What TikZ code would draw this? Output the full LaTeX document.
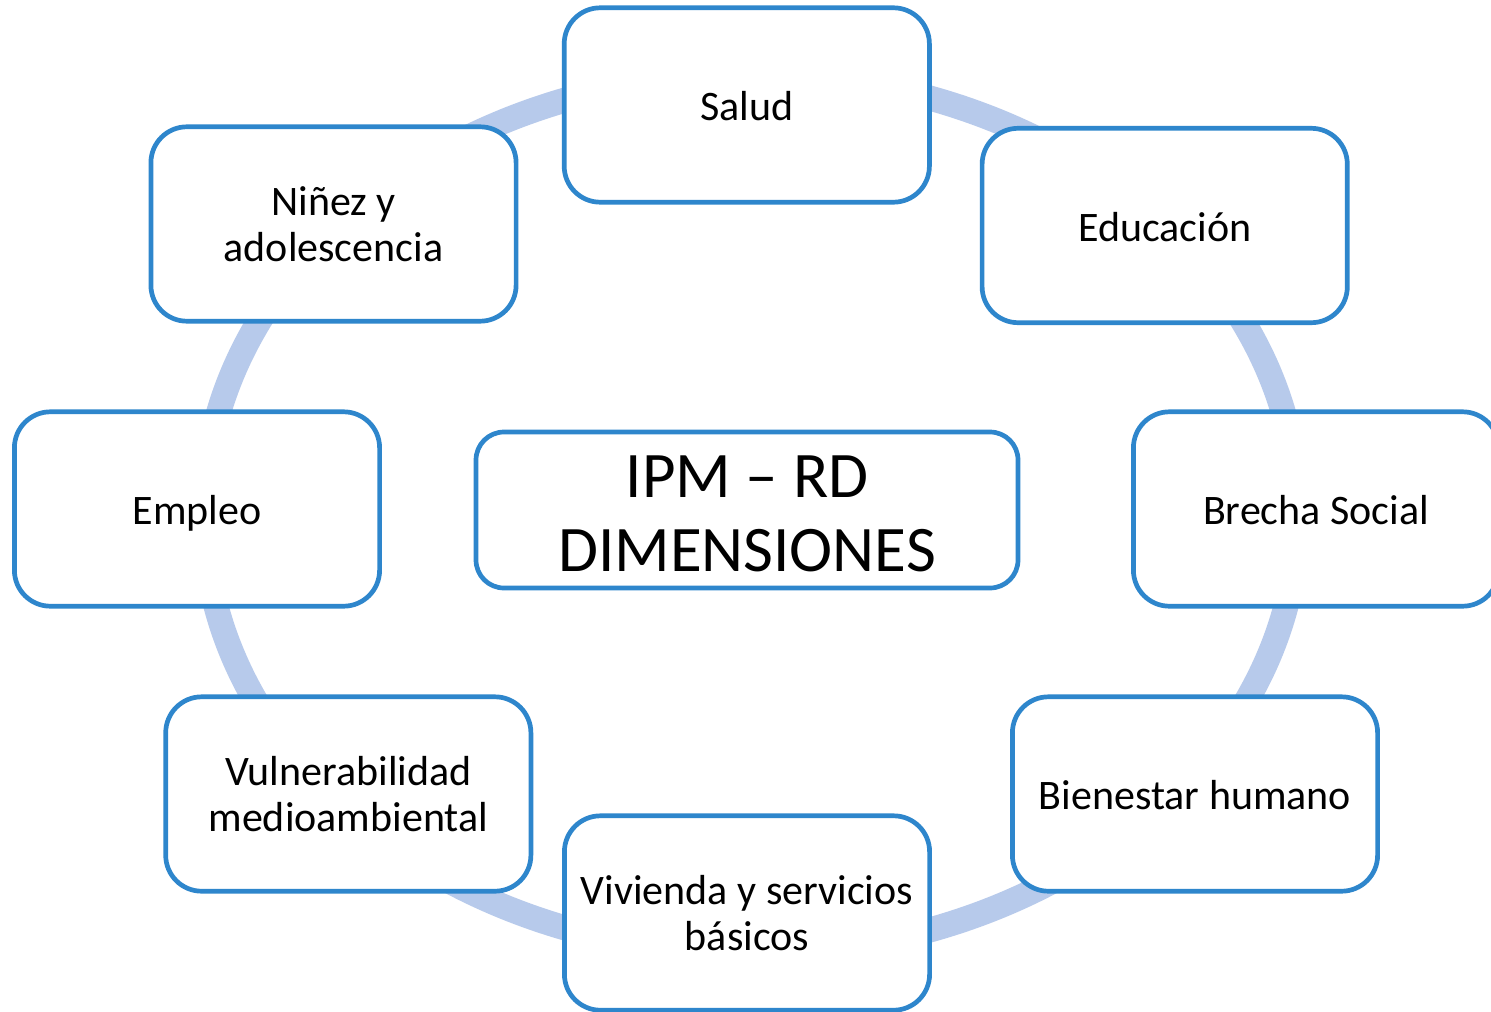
\documentclass[tikz,border=0pt]{standalone}
\usepackage{fontspec}
\setmainfont{Carlito}
\definecolor{boxblue}{RGB}{46,134,204}
\definecolor{ringblue}{RGB}{183,202,235}
\begin{document}
\begin{tikzpicture}[x=0.5pt,y=-0.5pt,
  dimbox/.style={draw=boxblue, line width=2.35pt, fill=white, rounded corners=18pt,
    minimum width=182.6pt, minimum height=97.2pt, inner sep=0pt, align=center,
    font=\fontsize{21}{23}\selectfont},
  oneline/.style={text height=16pt, text depth=0.2pt},
  centerbox/.style={draw=boxblue, line width=2.35pt, fill=white, rounded corners=14pt,
    minimum width=271pt, minimum height=78pt, inner sep=0pt, align=center,
    font=\fontsize{32.5}{37}\selectfont}]
\useasboundingbox (0,0) rectangle (1491,1011);
\fill[white] (0,0) rectangle (1491,1011);
\draw[ringblue, line width=12.5pt] (751,514) ellipse [x radius=273.5pt, y radius=220pt];
\node[dimbox, oneline] (salud) at (746.8,105) {Salud};
\node[dimbox, oneline] (educacion) at (1164.7,225.5) {Educación};
\node[dimbox, oneline] (brecha) at (1316,509) {Brecha Social};
\node[dimbox, oneline] (bienestar) at (1195,794) {Bienestar humano};
\node[dimbox] (vivienda) at (747,913) {Vivienda y servicios\\básicos};
\node[dimbox] (vulnerabilidad) at (348.3,794) {Vulnerabilidad\\medioambiental};
\node[dimbox, oneline] (empleo) at (197,509) {Empleo};
\node[dimbox] (ninez) at (333.5,224) {Niñez y\\adolescencia};
\node[centerbox] (ipm) at (747,510) {\rule{0pt}{25pt}IPM – RD\\DIMENSIONES};
\end{tikzpicture}
\end{document}
